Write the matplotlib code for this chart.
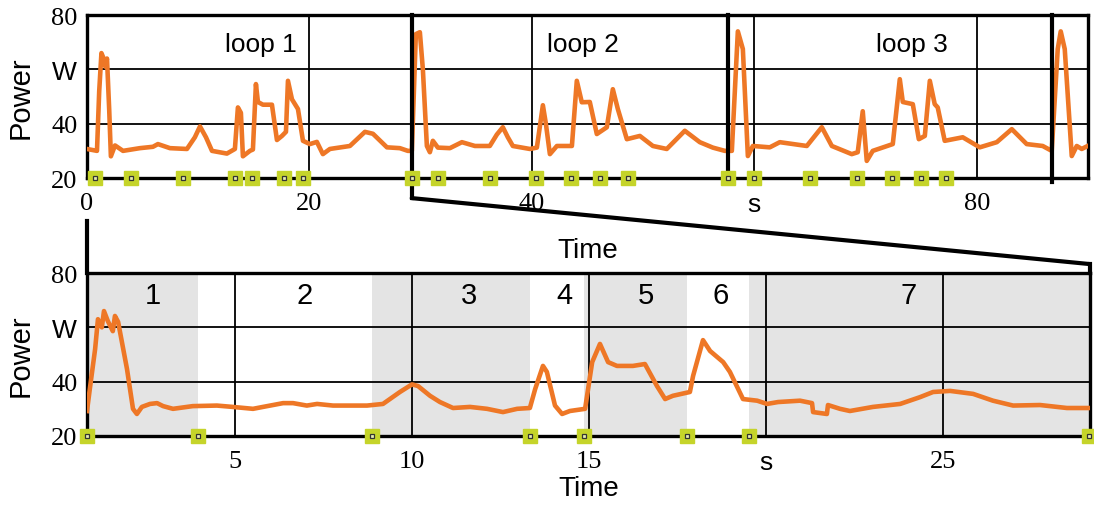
import matplotlib
matplotlib.use("Agg")
import matplotlib.pyplot as plt
from matplotlib.patches import ConnectionPatch

# top panel: three loops, power trace (s, W)
t_top = [0.0, 0.9, 1.1, 1.3, 1.5, 1.65, 1.8, 2.0, 2.15, 2.52, 3.24, 4.76, 5.93, 6.38, 7.46,
         8.99, 9.7, 10.16, 10.7, 11.24, 12.58, 13.3, 13.57, 13.84, 14.02, 14.65, 14.92, 15.19,
         15.37, 15.82, 16.63, 17.08, 17.53, 17.89, 18.07, 18.43, 18.97, 19.42, 20.04, 20.67,
         21.21, 21.84, 23.64, 24.99, 25.71, 26.97, 28.13, 28.85,
         29.21, 29.57, 29.93, 30.2, 30.56, 30.83, 31.1, 31.55, 32.63, 33.71, 34.88, 36.22,
         36.85, 37.39, 37.84, 38.29, 39.82, 40.45, 40.99, 41.26, 41.62, 42.25, 43.6, 44.04,
         44.49, 45.21, 45.84, 46.74, 47.28, 47.73, 48.54, 49.71, 50.88, 52.13, 53.75, 55.1,
         56.27, 57.35,
         57.98, 58.52, 58.97, 59.42, 59.87, 61.39, 62.29, 64.72, 66.07, 66.97, 68.76, 69.3,
         69.75, 70.11, 70.65, 72.45, 73.08, 73.35, 74.25, 74.79, 75.33, 75.78, 76.22, 76.49,
         77.12, 78.74, 80.27, 81.8, 83.15, 84.49, 85.93, 86.74,
         87.28, 87.55, 87.91, 88.54, 88.99, 89.44, 89.97]
p_top = [30.7, 30.0, 52.0, 66.0, 64.0, 61.0, 64.0, 45.0, 28.0, 32.0, 30.0, 31.0, 31.5, 32.5, 31.0,
         30.7, 35.0, 39.0, 35.0, 30.0, 29.0, 30.7, 46.0, 44.0, 28.0, 30.0, 30.5, 54.6,
         48.0, 47.0, 47.0, 34.0, 35.5, 37.0, 55.8, 49.0, 45.4, 33.7, 32.5, 33.3,
         28.8, 30.7, 31.8, 37.0, 36.3, 31.3, 31.0, 30.0,
         30.0, 73.0, 73.7, 60.0, 31.8, 29.5, 33.7, 31.2, 31.0, 33.2, 31.8, 31.8,
         36.0, 38.7, 35.0, 31.8, 30.7, 31.2, 46.8, 40.0, 28.8, 31.8, 31.8, 55.8,
         47.9, 48.0, 36.2, 38.7, 52.7, 45.4, 34.3, 35.5, 31.8, 30.7, 37.4, 33.2,
         31.2, 30.0,
         30.0, 74.0, 67.5, 28.1, 31.8, 31.3, 33.2, 31.8, 38.7, 31.8, 28.8, 29.5,
         44.6, 26.3, 30.0, 32.5, 56.4, 48.0, 47.2, 34.3, 35.5, 55.8, 47.2, 46.0,
         33.7, 35.0, 31.3, 33.2, 38.0, 32.5, 31.8, 30.0,
         67.5, 74.0, 67.5, 28.1, 31.8, 30.7, 31.8]
marks_top = [0.72, 3.96, 8.63, 13.3, 14.83, 17.7, 19.4, 29.2, 31.6, 36.2, 40.4, 43.5, 46.1,
             48.6, 57.6, 60.0, 65.0, 69.2, 72.4, 75.0, 77.2]
loop_starts = [29.2, 57.6, 86.8]
loop_names = ["loop 1", "loop 2", "loop 3"]
loop_label_x = [15.6, 44.6, 74.2]

# bottom panel: loop 1 zoomed in
t_bot = [0.82, 0.9, 1.05, 1.13, 1.24, 1.3, 1.41, 1.55, 1.61, 1.7, 1.95, 2.12, 2.23, 2.37,
         2.6, 2.8, 2.97, 3.25, 3.81, 4.49, 4.94, 5.51, 5.79, 6.36, 6.64, 7.03, 7.32, 7.77,
         8.73, 9.18, 9.66, 10.0, 10.17, 10.51, 10.79, 11.16, 11.64, 12.12, 12.57, 12.97, 13.33,
         13.48, 13.7, 13.81, 14.04, 14.24, 14.46, 14.89, 15.09, 15.31, 15.54, 15.79, 16.24,
         16.58, 16.92, 17.15, 17.37, 17.85, 17.94, 18.22, 18.42, 18.79, 18.98, 19.35, 19.75,
         20.03, 20.34, 20.96, 21.3, 21.33, 21.72, 21.75, 22.09, 22.37, 23.02, 23.79, 24.35,
         24.72, 25.2, 25.85, 26.41, 26.98, 27.74, 28.5, 29.15]
p_bot = [29.2, 37.3, 52.0, 63.0, 60.0, 66.0, 62.3, 58.6, 64.2, 62.0, 44.7, 30.0, 28.1, 30.7,
         31.8, 32.1, 31.0, 30.0, 31.0, 31.2, 30.7, 30.0, 30.7, 32.1, 32.1, 31.2, 31.8, 31.2,
         31.2, 31.8, 36.2, 39.0, 38.4, 34.8, 32.5, 30.3, 30.7, 30.0, 28.8, 30.0, 30.3,
         37.3, 45.8, 43.6, 31.2, 28.1, 29.2, 30.0, 47.2, 53.9, 47.2, 45.8, 45.8,
         46.5, 38.4, 33.6, 34.8, 36.2, 42.1, 55.3, 51.3, 47.2, 43.6, 33.6, 33.0,
         31.8, 32.5, 33.0, 32.1, 28.8, 28.1, 31.4, 30.0, 29.2, 30.7, 31.8, 34.3,
         36.2, 36.6, 35.5, 33.0, 31.2, 31.4, 30.3, 30.3]
marks_bot = [0.82, 3.97, 8.87, 13.32, 14.87, 17.77, 19.52, 29.12]
seg_names = ["1", "2", "3", "4", "5", "6", "7"]
seg_label_x = [2.68, 6.98, 11.62, 14.32, 16.62, 18.72, 24.02]

orange = "#ee7726"
green = "#c5d42a"
serif = "Liberation Serif"
sans = "Liberation Sans"

fig = plt.figure(figsize=(10.94, 5.06), dpi=100)
ax1 = fig.add_axes([0.0795, 0.6462, 0.915, 0.322])
ax2 = fig.add_axes([0.0795, 0.1364, 0.9168, 0.322])


def style(ax, xticks, xlabels):
    ax.set_ylim(20, 80)
    ax.set_yticks([20, 40, 60, 80])
    ax.set_yticklabels(["20", "40", "W", "80"])
    ax.set_xticks(xticks)
    ax.set_xticklabels(xlabels)
    ax.tick_params(length=0, labelsize=19, pad=7)
    ax.tick_params(axis="x", pad=10)
    for lbl in ax.get_xticklabels() + ax.get_yticklabels():
        lbl.set_fontfamily(sans if lbl.get_text() in ("W", "s") else serif)
    ax.grid(True, color="black", lw=1.3)
    ax.set_axisbelow(True)
    for sp in ax.spines.values():
        sp.set_linewidth(2.4)
    ax.set_ylabel("Power", fontsize=21, family=sans)
    ax.yaxis.set_label_coords(-0.052, 0.5)
    ax.set_xlabel("Time", fontsize=20, family=sans)


# top
ax1.set_xlim(0, 90)
style(ax1, [0, 20, 40, 60, 80], ["0", "20", "40", "s", "80"])
ax1.xaxis.set_label_coords(0.5, -0.36)
ax1.plot(t_top, p_top, color=orange, lw=3.3, zorder=3)
for i, x in enumerate(loop_starts):
    lo = 12.6 if i == 0 else 18.5
    ax1.plot([x, x], [80, lo], color="black", lw=3, clip_on=False, zorder=4)
for x, name in zip(loop_label_x, loop_names):
    ax1.text(x, 69.5, name, fontsize=19, family=sans, ha="center", va="center")
ax1.plot(marks_top, [20] * len(marks_top), "s", ms=10, color=green, clip_on=False, zorder=5)
ax1.plot(marks_top, [20] * len(marks_top), "s", ms=3.5, mfc="#e8efb0", mec="#333333",
         mew=0.9, clip_on=False, zorder=6)

# bottom
ax2.set_xlim(0.82, 29.15)
style(ax2, [5, 10, 15, 20, 25], ["5", "10", "15", "s", "25"])
ax2.xaxis.set_label_coords(0.5, -0.24)
shade = [(marks_bot[0], marks_bot[1]), (marks_bot[2], marks_bot[3]),
         (marks_bot[4], marks_bot[5]), (marks_bot[6], marks_bot[7])]
for a, b in shade:
    ax2.axvspan(a, b, color="#e4e4e4", lw=0, zorder=0)
ax2.plot(t_bot, p_bot, color=orange, lw=3.3, zorder=3)
for x, name in zip(seg_label_x, seg_names):
    ax2.text(x, 72, name, fontsize=21, family=sans, ha="center", va="center")
ax2.plot(marks_bot, [20] * len(marks_bot), "s", ms=10, color=green, clip_on=False, zorder=5)
ax2.plot(marks_bot, [20] * len(marks_bot), "s", ms=3.5, mfc="#e8efb0", mec="#333333",
         mew=0.9, clip_on=False, zorder=6)

# zoom connectors
con = ConnectionPatch(xyA=(loop_starts[0], 12.6), coordsA=ax1.transData,
                      xyB=(1, 1.055), coordsB=ax2.transAxes, color="black", lw=3)
fig.add_artist(con)
ax2.plot([1, 1], [1.055, 1], color="black", lw=3, transform=ax2.transAxes, clip_on=False)
ax2.plot([0, 0], [1, 1.32], color="black", lw=3, transform=ax2.transAxes, clip_on=False)

fig.savefig("out.png", dpi=100)
